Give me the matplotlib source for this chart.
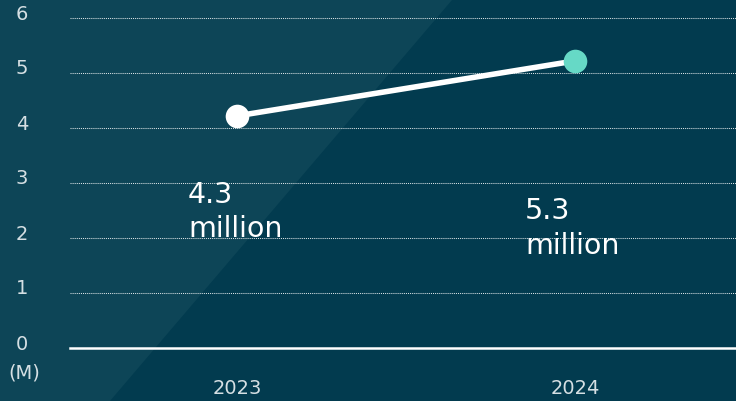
import matplotlib
matplotlib.use("Agg")
import matplotlib.pyplot as plt
from matplotlib.patches import Polygon
from matplotlib.transforms import ScaledTranslation

# ---- data ----
years = ["2023", "2024"]
values = [4.22, 5.22]          # plotted position
value_labels = ["4.3\nmillion", "5.3\nmillion"]
y_ticks = [0, 1, 2, 3, 4, 5, 6]

# ---- colours ----
bg_dark = "#023b4f"
bg_light = "#0d4557"
teal = "#66d9c6"
txt = "#d5dfe3"

plt.rcParams['font.family'] = ['DejaVu Sans']

fig = plt.figure(figsize=(7.36, 4.01), dpi=100)
fig.patch.set_facecolor(bg_dark)

# background axes with the lighter diagonal band on the left
bg = fig.add_axes([0, 0, 1, 1], zorder=-1)
bg.set_xlim(0, 736)
bg.set_ylim(401, 0)
bg.axis("off")
bg.add_patch(Polygon([(0, 0), (452, 0), (110, 401), (0, 401)],
                     closed=True, facecolor=bg_light, edgecolor="none"))

ax = fig.add_axes([70 / 736, 53 / 401, 1 - 70 / 736, 330 / 401])
ax.set_facecolor("none")
x = list(range(len(years)))

ax.set_xlim(-0.494, 1.476)
ax.set_ylim(0, 6)

# gridlines
for yv in y_ticks[1:]:
    ax.axhline(yv, color="white", lw=0.75, ls=(0, (1, 1)), alpha=0.85,
               zorder=1, clip_on=False)
ax.axhline(0, color="white", lw=1.8, zorder=1, clip_on=False)

# line + markers
ax.plot(x, values, color="white", lw=4, zorder=2, solid_capstyle="butt")
ax.plot(x[0], values[0], "o", ms=17, color="white", mec="none", zorder=3)
ax.plot(x[1], values[1], "o", ms=17, color=teal, mec="none", zorder=3)

# value labels
label_pos = [(-0.145, 3.04), (-0.148 + 1, 2.74)]
for (lx, ly), lab in zip(label_pos, value_labels):
    ax.text(lx, ly, lab, color="white", fontsize=20.5, va="top", ha="left",
            linespacing=1.3, zorder=4)

for s in ax.spines.values():
    s.set_visible(False)

ax.set_yticks(y_ticks)
ax.set_yticklabels([str(v) for v in y_ticks])
ax.set_xticks(x)
ax.set_xticklabels(years)
ax.tick_params(axis="y", length=0, pad=30, labelsize=14, labelcolor=txt)
ax.tick_params(axis="x", length=0, pad=22, labelsize=14, labelcolor=txt)
shift = ScaledTranslation(0, 6 / 100, fig.dpi_scale_trans)
for t in ax.get_yticklabels():
    t.set_transform(t.get_transform() + shift)

fig.text(40 / 736, 1 - 373 / 401, "(M)", color=txt, fontsize=14,
         ha="right", va="center")

fig.savefig("out.png", dpi=100, facecolor=fig.get_facecolor())
